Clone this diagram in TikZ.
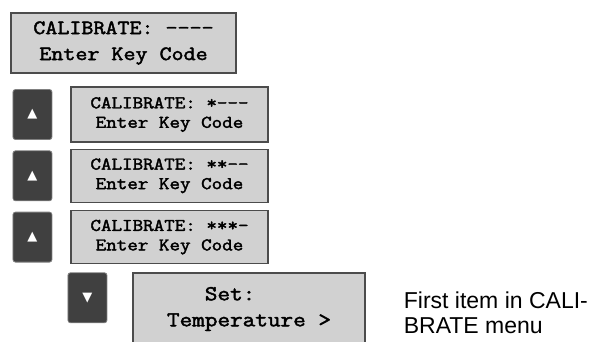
\documentclass[tikz,border=0pt]{standalone}
\usepackage{fontspec}
\setmainfont{Liberation Sans}
\newfontfamily\lcdfont{Latin Modern Mono}[FakeStretch=1.15, FakeBold=2.2]
\newfontfamily\symfont{DejaVu Sans}
\usepackage{tikz}
\usetikzlibrary{positioning}

\begin{document}
\begin{tikzpicture}[
                    x=1pt, y=-1pt,
                    lcd/.style={draw=black!70, line width=1.3pt, fill=black!18, inner sep=0pt, align=center},
                    bigtext/.style={font=\fontsize{20.3}{26}\selectfont\lcdfont},
                    smalltext/.style={font=\fontsize{17.8}{19.5}\selectfont\lcdfont},
                    menutext/.style={font=\fontsize{21.3}{26}\selectfont\lcdfont},
                    key/.style={draw=black!50, line width=0.8pt, fill=black!75, rounded corners=2.5pt, minimum width=39pt, minimum height=50pt, inner sep=0pt, text=white, font=\fontsize{13}{13}\selectfont\symfont},
                    note/.style={align=left, inner sep=0pt, font=\fontsize{23}{25}\selectfont}
                ]
                    \useasboundingbox (0,0) rectangle (595,341);
                    % Display screens
                    \node[lcd, bigtext, minimum width=225pt, minimum height=60pt] (Start) at (123.5,43) {CALIBRATE: ----\\Enter Key Code};
                    \node[lcd, smalltext, minimum width=197pt, minimum height=55pt] (Code1) at (169.5,114.5) {CALIBRATE: *---\\Enter Key Code};
                    \node[lcd, smalltext, minimum width=197pt, minimum height=53pt, below=6pt of Code1] (Code2) {CALIBRATE: **--\\Enter Key Code};
                    \node[lcd, smalltext, minimum width=197pt, minimum height=53pt, below=7pt of Code2] (Code3) {CALIBRATE: ***-\\Enter Key Code};
                    \node[lcd, menutext, minimum width=232pt, minimum height=72pt, align=left] (Menu) at (249,309) {\phantom{Tem}Set:\\Temperature >};

                    % Keys
                    \node[key, left=18pt of Code1] (Up1) {▲};
                    \node[key, left=18pt of Code2] (Up2) {▲};
                    \node[key, left=18pt of Code3] (Up3) {▲};
                    \node[key, left=25pt of Menu.north west, anchor=north east] (Down) {▼};

                    % Note
                    \node[note, right=38pt of Menu, yshift=-4pt] (Note) {First item in CALI-\\BRATE menu};
                \end{tikzpicture}
\end{document}
